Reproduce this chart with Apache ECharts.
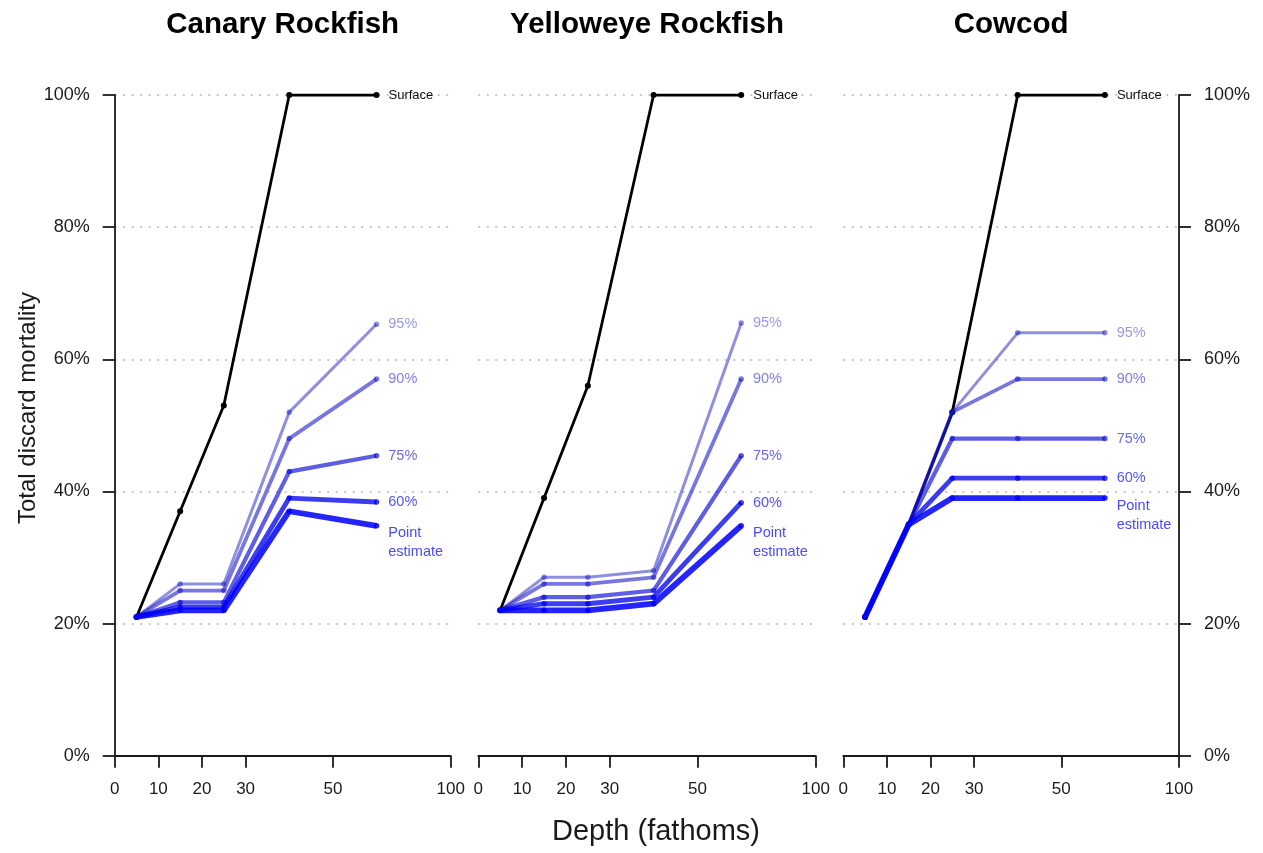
<!DOCTYPE html>
<html>
<head>
<meta charset="utf-8">
<script src="https://cdn.jsdelivr.net/npm/echarts@6/dist/echarts.min.js"></script>
<style>
    html, body { margin: 0; background: #fff; }
    #chart { width: 1263px; height: 853px; }
</style>
</head>
<body>
<div id="chart"></div>
<script>
// panel titles and series labels
const panelTitles = ["Canary Rockfish", "Yelloweye Rockfish", "Cowcod"];
const lineNames = ["Surface", "95%", "90%", "75%", "60%", "Point estimate"];

// depth axis: tick labels and where they sit on the (stretched) axis
const depthTicks = ["0", "10", "20", "30", "50", "100"];
const depthTickPos = [0, 1, 2, 3, 5, 7.7];
// depth bins 0-10, 10-20, 20-30, 30-50, 50-100 (plotted at bin positions)
const binPos = [0.5, 1.5, 2.5, 4, 6];

// total discard mortality (%)
const canarySurface = [21, 37, 53, 100, 100];
const canary95 = [21, 26, 26, 52, 65.3];
const canary90 = [21, 25, 25, 48, 57];
const canary75 = [21, 23.2, 23.2, 43, 45.4];
const canary60 = [21, 22.5, 22.5, 39, 38.4];
const canaryPoint = [21, 22, 22, 37, 34.8];

const yelloweyeSurface = [22, 39, 56, 100, 100];
const yelloweye95 = [22, 27, 27, 28, 65.5];
const yelloweye90 = [22, 26, 26, 27, 57];
const yelloweye75 = [22, 24, 24, 25, 45.4];
const yelloweye60 = [22, 23, 23, 24, 38.3];
const yelloweyePoint = [22, 22, 22, 23, 34.8];

const cowcodSurface = [21, 35, 52, 100, 100];
const cowcod95 = [21, 35, 52, 64, 64];
const cowcod90 = [21, 35, 52, 57, 57];
const cowcod75 = [21, 35, 48, 48, 48];
const cowcod60 = [21, 35, 42, 42, 42];
const cowcodPoint = [21, 35, 39, 39, 39];

const panelData = [
    [canarySurface, canary95, canary90, canary75, canary60, canaryPoint],
    [yelloweyeSurface, yelloweye95, yelloweye90, yelloweye75, yelloweye60, yelloweyePoint],
    [cowcodSurface, cowcod95, cowcod90, cowcod75, cowcod60, cowcodPoint],
];

const font = "'Liberation Sans', Arial, sans-serif";
const lineColors = [
    "#000000",
    "rgba(20, 20, 190, 0.48)",
    "rgba(20, 20, 200, 0.58)",
    "rgba(10, 10, 215, 0.66)",
    "rgba(0, 0, 235, 0.76)",
    "rgba(0, 0, 255, 0.86)",
];
const labelColors = ["#111", "#9a9ae4", "#8080e6", "#6a6aea", "#5656f2", "#4a4aff"];
const lineWidths = [2.8, 3, 3.8, 4.2, 4.8, 5.8];

const grids = [
    { left: 114.7, top: 95, width: 336, height: 660.7 },
    { left: 478.3, top: 95, width: 337.4, height: 660.7 },
    { left: 843.3, top: 95, width: 335.7, height: 660.7 },
];

const axisLineStyle = { color: "#1a1a1a", width: 1.8 };
const gridLine = { show: true, lineStyle: { color: "#b4b4b4", width: 1.6, type: [2, 6.5] } };

const xAxes = grids.map((g, i) => ({
    gridIndex: i,
    type: "value",
    min: 0,
    max: 7.7,
    axisLine: { show: true, onZero: false, lineStyle: axisLineStyle },
    axisTick: { show: true, length: 12, customValues: depthTickPos, lineStyle: axisLineStyle },
    axisLabel: {
        show: true,
        customValues: depthTickPos,
        margin: 25,
        fontSize: 17,
        color: "#1a1a1a",
        fontFamily: font,
        formatter: (v) => depthTicks[depthTickPos.indexOf(v)] ?? "",
    },
    splitLine: { show: false },
}));

const yAxes = grids.map((g, i) => {
    const visible = i !== 1;
    return {
        gridIndex: i,
        type: "value",
        min: 0,
        max: 100,
        interval: 20,
        position: i === 2 ? "right" : "left",
        axisLine: { show: visible, onZero: false, lineStyle: axisLineStyle },
        axisTick: { show: visible, length: 12, lineStyle: axisLineStyle },
        axisLabel: {
            show: visible,
            margin: 25,
            fontSize: 18,
            color: "#1a1a1a",
            fontFamily: font,
            formatter: "{value}%",
        },
        splitLine: gridLine,
    };
});

const series = [];
panelData.forEach((lines, p) => {
    lines.forEach((values, k) => {
        const isPoint = k === 5;
        const data = values.map((v, j) => {
            const item = { value: [binPos[j], v] };
            if (j === values.length - 1) {
                item.label = {
                    show: true,
                    position: "right",
                    distance: 9,
                    color: labelColors[k],
                    fontSize: k === 0 ? 13 : 14.5,
                    fontFamily: font,
                    align: "left",
                    lineHeight: 19,
                    offset: isPoint ? [0, 17] : [0, 0],
                    formatter: isPoint ? "Point\nestimate" : lineNames[k],
                };
            }
            return item;
        });
        series.push({
            name: lineNames[k],
            type: "line",
            xAxisIndex: p,
            yAxisIndex: p,
            data,
            symbol: "circle",
            symbolSize: k === 0 ? 6 : 5.5,
            showAllSymbol: true,
            itemStyle: { color: lineColors[k] },
            lineStyle: { color: lineColors[k], width: lineWidths[k] },
            label: { show: false },
            emphasis: { disabled: true },
            silent: true,
            z: 2 + k,
        });
    });
});

const chart = echarts.init(document.getElementById("chart"), null, { renderer: "canvas" });
chart.setOption({
    animation: false,
    backgroundColor: "#fff",
    grid: grids,
    xAxis: xAxes,
    yAxis: yAxes,
    series,
    graphic: [
        ...panelTitles.map((t, i) => ({
            type: "text",
            x: grids[i].left + grids[i].width / 2,
            y: 25,
            style: {
                text: t,
                fill: "#000",
                font: `bold 29.5px ${font}`,
                textAlign: "center",
                textVerticalAlign: "middle",
            },
        })),
        {
            type: "text",
            x: 28,
            y: 408,
            rotation: Math.PI / 2,
            style: {
                text: "Total discard mortality",
                fill: "#1a1a1a",
                font: `24px ${font}`,
                textAlign: "center",
                textVerticalAlign: "middle",
            },
        },
        {
            type: "text",
            x: 656,
            y: 832,
            style: {
                text: "Depth (fathoms)",
                fill: "#1a1a1a",
                font: `29px ${font}`,
                textAlign: "center",
                textVerticalAlign: "middle",
            },
        },
    ],
});
window.addEventListener("resize", () => chart.resize());
</script>
</body>
</html>
